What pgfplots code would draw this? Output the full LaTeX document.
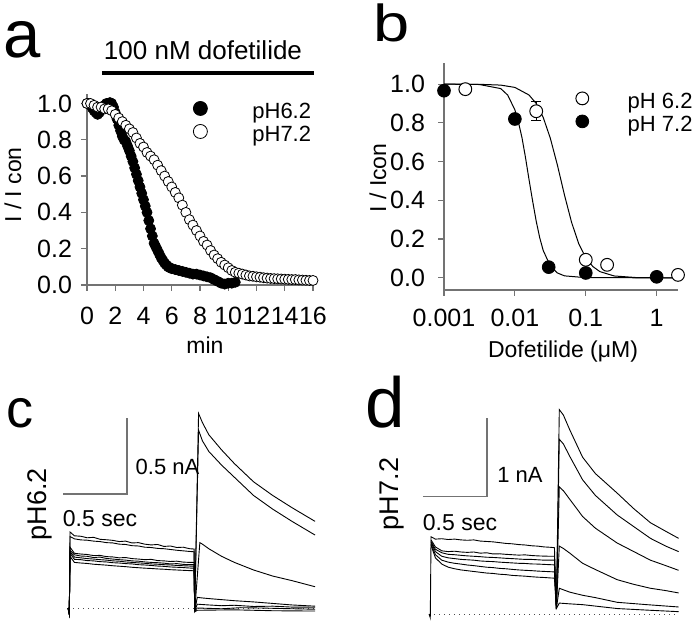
\documentclass[border=0pt]{standalone}
\usepackage{pgfplots}
\pgfplotsset{compat=1.18}
\usepackage{fontspec}
\setmainfont{Liberation Sans}
\definecolor{axgray}{gray}{0.45}
\begin{document}
\begin{tikzpicture}
\path[use as bounding box] (0,0) rectangle (348.5pt,311pt);
\pgfplotsset{
  sp/.style={scale only axis, axis x line=bottom, axis y line=left,
    axis line style={-, axgray, line width=0.6pt},
    tick style={axgray, line width=0.6pt}, tick align=outside,
    major tick length=3pt,
    every tick label/.append style={font=\fontsize{12.5}{13}\selectfont, text=black},
    /pgf/number format/assume math mode=true, clip=false},
  trace/.style={black, line width=0.45pt, mark=none},
}
% ---------------- panel a ----------------
\begin{axis}[sp, at={(43.5pt,168.5pt)}, anchor=south west,
  width=113pt, height=95.3pt, xmin=0, xmax=16, ymin=0, ymax=1.05,
  xtick={0,2,4,6,8,10,12,14,16},
  ytick={0,0.2,0.4,0.6,0.8,1.0}, yticklabels={0.0,0.2,0.4,0.6,0.8,1.0},
  xticklabel style={yshift=-4.5pt}, yticklabel style={xshift=-1pt},
  legend style={at={(0.469,0.965)}, anchor=north west, draw=none, fill=none,
    inner sep=0pt, row sep=0pt, font=\fontsize{11}{11}\selectfont,
    nodes={inner sep=0pt, text height=8pt, text depth=3pt},
    /tikz/every odd column/.append style={column sep=22.5pt},
    /tikz/every even column/.append style={column sep=0pt}},
  legend image code/.code={\draw[#1, mark size=3.5pt] plot coordinates {(0pt,2.5pt)};},
]
\addplot[only marks, mark=*, mark size=2.5pt, draw=black, fill=black] coordinates {
(0,1.00) (0.125,1.00) (0.25,0.99) (0.375,0.975) (0.5,0.96) (0.625,0.95) (0.75,0.94) (0.875,0.95)
(1.0,0.97) (1.125,0.98) (1.25,0.99) (1.375,1.00) (1.5,1.00) (1.625,1.005) (1.75,1.00) (1.875,0.98)
(2.0,0.95) (2.125,0.915) (2.25,0.88) (2.375,0.85) (2.5,0.82) (2.625,0.80) (2.75,0.79) (2.875,0.765)
(3.0,0.74) (3.125,0.71) (3.25,0.68) (3.375,0.645) (3.5,0.61) (3.625,0.575) (3.75,0.54) (3.875,0.505)
(4.0,0.47) (4.125,0.435) (4.25,0.40) (4.375,0.355) (4.5,0.31) (4.625,0.27) (4.75,0.23) (4.875,0.21)
(5.0,0.19) (5.125,0.17) (5.25,0.15) (5.375,0.135) (5.5,0.12) (5.625,0.11) (5.75,0.10) (5.875,0.095)
(6.0,0.09) (6.25,0.085) (6.5,0.08) (6.75,0.075) (7.0,0.07) (7.25,0.065) (7.5,0.06) (7.75,0.06)
(8.0,0.055) (8.25,0.05) (8.5,0.045) (8.75,0.04) (9.0,0.03) (9.25,0.02) (9.5,0.01) (9.75,0.005)
(10.0,0.01) (10.25,0.01) (10.5,0.015)};
\addlegendentry{pH6.2}
\addplot[only marks, mark=*, mark size=2.5pt, draw=black, fill=white, mark options={line width=0.4pt}] coordinates {
(0,1.00) (0.25,1.00) (0.5,0.99) (0.75,0.98) (1.0,0.98) (1.25,0.97) (1.5,0.97) (1.75,0.96)
(2.0,0.94) (2.25,0.92) (2.5,0.90) (2.75,0.88) (3.0,0.86) (3.25,0.84) (3.5,0.81) (3.75,0.78)
(4.0,0.76) (4.25,0.73) (4.5,0.71) (4.75,0.69) (5.0,0.66) (5.25,0.63) (5.5,0.60) (5.75,0.57)
(6.0,0.54) (6.25,0.51) (6.5,0.48) (6.75,0.44) (7.0,0.40) (7.25,0.36) (7.5,0.33) (7.75,0.30)
(8.0,0.27) (8.25,0.24) (8.5,0.22) (8.75,0.19) (9.0,0.165) (9.25,0.145) (9.5,0.125) (9.75,0.11)
(10.0,0.095) (10.25,0.08) (10.5,0.07) (10.75,0.065) (11.0,0.06) (11.25,0.055) (11.5,0.05) (11.75,0.048)
(12.0,0.045) (12.25,0.043) (12.5,0.04) (12.75,0.038) (13.0,0.036) (13.25,0.035) (13.5,0.034) (13.75,0.033)
(14.0,0.032) (14.25,0.031) (14.5,0.03) (14.75,0.03) (15.0,0.028) (15.25,0.027) (15.5,0.026) (15.75,0.025) (16.0,0.025)};
\addlegendentry{pH7.2}
\draw[black, line width=2pt] (axis cs:1.05,1.168) -- (axis cs:16.1,1.168);
\end{axis}
% ---------------- panel b ----------------
\begin{axis}[sp, at={(222pt,166pt)}, anchor=south west,
  width=117pt, height=113.3pt, xmode=log, xmin=0.001, xmax=2, ymin=-0.063, ymax=1.107,
  xtick={0.001,0.01,0.1,1}, xticklabels={0.001,0.01,0.1,1}, xminorticks=false,
  ytick={0,0.2,0.4,0.6,0.8,1.0}, yticklabels={0.0,0.2,0.4,0.6,0.8,1.0},
  xticklabel style={yshift=-3pt}, yticklabel style={xshift=-3pt},
  legend style={at={(0.562,0.876)}, anchor=north west, draw=none, fill=none,
    inner sep=0pt, row sep=0pt, font=\fontsize{11}{11}\selectfont,
    nodes={inner sep=0pt, text height=8.5pt, text depth=3pt},
    /tikz/every odd column/.append style={column sep=19.5pt},
    /tikz/every even column/.append style={column sep=0pt}},
  legend image code/.code={\draw[#1, mark size=3.2pt] plot coordinates {(0pt,2.5pt)};},
]
\addplot[black, line width=0.5pt, forget plot] coordinates {
(0.001,1.0) (0.00316,0.999) (0.00631,0.995) (0.01,0.983) (0.0158,0.944) (0.02,0.900) (0.0251,0.828)
(0.0316,0.721) (0.0398,0.582) (0.0501,0.427) (0.0631,0.286) (0.0794,0.177) (0.1,0.104)
(0.126,0.058) (0.158,0.032) (0.251,0.0095) (0.501,0.0015) (1,0.0) (2,0.0)};
\addplot[black, line width=0.5pt, forget plot] coordinates {
(0.001,1.0) (0.00316,0.998) (0.00631,0.977) (0.00794,0.943) (0.01,0.867) (0.0112,0.805)
(0.0126,0.723) (0.0141,0.622) (0.0158,0.509) (0.0178,0.396) (0.02,0.292) (0.0224,0.207)
(0.0251,0.141) (0.0316,0.061) (0.0398,0.025) (0.0501,0.010) (0.1,0.0007) (1,0.0) (2,0.0)};
\addplot[black, line width=0.5pt, forget plot, only marks, mark=none,
  error bars/.cd, y dir=both, y explicit, error mark options={rotate=90, mark size=2.5pt, line width=0.5pt}]
  coordinates {(0.02,0.86) +- (0,0.05)};
\addplot[only marks, mark=*, mark size=3.2pt, draw=black, fill=white, mark options={line width=0.5pt}] coordinates {
(0.002,0.974) (0.02,0.86) (0.1,0.093) (0.2,0.067) (2,0.015)};
\addlegendentry{pH 6.2}
\addplot[only marks, mark=*, mark size=3.2pt, draw=black, fill=black] coordinates {
(0.001,0.966) (0.01,0.82) (0.03,0.055) (0.1,0.025) (1,0.005)};
\addlegendentry{pH 7.2}
\end{axis}
% ---------------- panel c ----------------
\begin{axis}[at={(30.8pt,3.2pt)}, anchor=south west, scale only axis, hide axis, clip=false,
  width=131.2pt, height=106.4pt, xmin=-0.05, xmax=2.0, ymin=-0.05, ymax=1.35]
\addplot[black!70, dotted, line width=0.5pt] coordinates {(0,0) (1.93,0)};
\addplot[axgray, line width=0.6pt] coordinates {(-0.039,0.75) (0.461,0.75) (0.461,1.25)};
\addplot[trace] coordinates {(0,0) (0.01,-0.04) (0.016,0.50) (0.05,0.475) (0.1,0.472) (0.15,0.462) (0.2,0.465) (0.25,0.452) (0.3,0.449) (0.35,0.445) (0.4,0.437) (0.45,0.44) (0.5,0.428) (0.55,0.43) (0.6,0.42) (0.65,0.415) (0.7,0.418) (0.75,0.405) (0.8,0.408) (0.85,0.398) (0.9,0.40) (0.95,0.39) (0.985,0.388) (0.99,-0.02) (1.02,1.28) (1.05,1.22) (1.1,1.14) (1.2,1.04) (1.3,0.95) (1.45,0.83) (1.6,0.74) (1.75,0.66) (1.93,0.57)};
\addplot[trace] coordinates {(0,0) (0.01,-0.04) (0.016,0.47) (0.05,0.455) (0.1,0.448) (0.15,0.446) (0.2,0.44) (0.25,0.437) (0.3,0.43) (0.35,0.428) (0.4,0.42) (0.45,0.418) (0.5,0.41) (0.55,0.408) (0.6,0.40) (0.65,0.398) (0.7,0.392) (0.75,0.39) (0.8,0.385) (0.85,0.38) (0.9,0.376) (0.95,0.372) (0.985,0.37) (0.99,-0.02) (1.02,1.17) (1.05,1.10) (1.1,1.03) (1.2,0.94) (1.3,0.86) (1.45,0.74) (1.6,0.65) (1.75,0.57) (1.93,0.48)};
\addplot[trace] coordinates {(0,0) (0.01,-0.04) (0.016,0.40) (0.05,0.36) (0.1,0.355) (0.15,0.352) (0.2,0.345) (0.25,0.346) (0.3,0.338) (0.35,0.336) (0.4,0.33) (0.45,0.332) (0.5,0.325) (0.55,0.322) (0.6,0.318) (0.65,0.32) (0.7,0.312) (0.75,0.31) (0.8,0.306) (0.85,0.308) (0.9,0.302) (0.95,0.30) (0.985,0.30) (0.99,-0.02) (1.03,0.43) (1.05,0.42) (1.1,0.39) (1.2,0.34) (1.3,0.30) (1.45,0.25) (1.6,0.21) (1.75,0.18) (1.93,0.14)};
\addplot[trace] coordinates {(0,0) (0.01,-0.04) (0.016,0.38) (0.05,0.35) (0.1,0.342) (0.15,0.34) (0.2,0.332) (0.25,0.335) (0.3,0.326) (0.35,0.322) (0.4,0.318) (0.45,0.315) (0.5,0.31) (0.55,0.308) (0.6,0.303) (0.65,0.30) (0.7,0.298) (0.75,0.295) (0.8,0.29) (0.85,0.292) (0.9,0.287) (0.95,0.285) (0.985,0.285) (0.99,-0.02) (1.01,0.07) (1.05,0.066) (1.1,0.062) (1.2,0.055) (1.3,0.048) (1.45,0.04) (1.6,0.03) (1.75,0.02) (1.93,0.012)};
\addplot[trace] coordinates {(0,0) (0.01,-0.04) (0.016,0.37) (0.05,0.335) (0.1,0.33) (0.15,0.325) (0.2,0.322) (0.25,0.318) (0.3,0.315) (0.35,0.31) (0.4,0.308) (0.45,0.303) (0.5,0.30) (0.55,0.297) (0.6,0.294) (0.65,0.29) (0.7,0.288) (0.75,0.285) (0.8,0.283) (0.85,0.28) (0.9,0.278) (0.95,0.276) (0.985,0.275) (0.99,-0.02) (1.01,0.025) (1.1,0.02) (1.2,0.015) (1.3,0.018) (1.45,0.01) (1.6,0.012) (1.75,0.006) (1.93,0.005)};
\addplot[trace] coordinates {(0,0) (0.01,-0.04) (0.016,0.36) (0.05,0.32) (0.1,0.318) (0.15,0.312) (0.2,0.31) (0.25,0.305) (0.3,0.303) (0.35,0.298) (0.4,0.296) (0.45,0.292) (0.5,0.29) (0.55,0.285) (0.6,0.283) (0.65,0.28) (0.7,0.276) (0.75,0.274) (0.8,0.27) (0.85,0.268) (0.9,0.266) (0.95,0.263) (0.985,0.262) (0.99,-0.02) (1.01,0.0) (1.2,-0.005) (1.35,0.002) (1.5,0.0) (1.7,-0.004) (1.93,-0.008)};
\addplot[trace] coordinates {(0,0) (0.01,-0.04) (0.016,0.34) (0.05,0.30) (0.1,0.296) (0.15,0.293) (0.2,0.288) (0.25,0.285) (0.3,0.282) (0.35,0.278) (0.4,0.275) (0.45,0.272) (0.5,0.268) (0.55,0.265) (0.6,0.262) (0.65,0.26) (0.7,0.257) (0.75,0.255) (0.8,0.252) (0.85,0.25) (0.9,0.248) (0.95,0.246) (0.985,0.245) (0.99,-0.025) (1.01,-0.015) (1.3,-0.012) (1.6,-0.018) (1.93,-0.02)};
\end{axis}
% ---------------- panel d ----------------
\begin{axis}[at={(211.3pt,2.05pt)}, anchor=south west, scale only axis, hide axis, clip=false,
  width=131.2pt, height=107.25pt, xmin=-0.05, xmax=2.0, ymin=-0.05, ymax=2.7]
\addplot[black!70, dotted, line width=0.5pt] coordinates {(0,0) (1.95,0)};
\addplot[axgray, line width=0.6pt] coordinates {(-0.047,1.51) (0.453,1.51) (0.453,2.51)};
\addplot[trace] coordinates {(0,0) (0.01,-0.05) (0.016,0.99) (0.05,0.96) (0.1,0.965) (0.15,0.955) (0.2,0.96) (0.25,0.95) (0.3,0.945) (0.35,0.95) (0.4,0.935) (0.45,0.93) (0.5,0.925) (0.55,0.915) (0.6,0.905) (0.65,0.90) (0.7,0.89) (0.75,0.885) (0.8,0.875) (0.85,0.87) (0.9,0.86) (0.95,0.855) (0.98,0.85) (0.995,0.07) (1.018,2.62) (1.05,2.55) (1.1,2.36) (1.2,2.01) (1.3,1.80) (1.47,1.55) (1.6,1.35) (1.73,1.17) (1.85,1.06) (1.95,0.97)};
\addplot[trace] coordinates {(0.016,0.95) (0.05,0.86) (0.1,0.81) (0.15,0.80) (0.2,0.805) (0.25,0.795) (0.3,0.79) (0.35,0.795) (0.4,0.78) (0.45,0.785) (0.5,0.77) (0.55,0.772) (0.6,0.765) (0.65,0.76) (0.7,0.755) (0.75,0.758) (0.8,0.75) (0.85,0.745) (0.9,0.742) (0.95,0.74) (0.98,0.74) (0.995,0.07) (1.018,2.24) (1.05,2.18) (1.1,2.02) (1.2,1.72) (1.3,1.52) (1.47,1.27) (1.6,1.12) (1.73,0.97) (1.85,0.87) (1.95,0.80)};
\addplot[trace] coordinates {(0.016,0.93) (0.05,0.83) (0.1,0.785) (0.15,0.765) (0.2,0.76) (0.25,0.752) (0.3,0.745) (0.35,0.74) (0.4,0.735) (0.45,0.728) (0.5,0.725) (0.55,0.72) (0.6,0.714) (0.65,0.71) (0.7,0.705) (0.75,0.70) (0.8,0.70) (0.85,0.695) (0.9,0.69) (0.95,0.69) (0.98,0.69) (0.995,0.07) (1.018,1.63) (1.05,1.58) (1.1,1.47) (1.2,1.25) (1.3,1.10) (1.47,0.91) (1.6,0.80) (1.73,0.69) (1.85,0.62) (1.95,0.56)};
\addplot[trace] coordinates {(0.016,0.92) (0.05,0.80) (0.1,0.74) (0.15,0.72) (0.2,0.71) (0.25,0.70) (0.3,0.695) (0.35,0.69) (0.4,0.68) (0.45,0.675) (0.5,0.672) (0.55,0.665) (0.6,0.66) (0.65,0.655) (0.7,0.65) (0.75,0.648) (0.8,0.642) (0.85,0.64) (0.9,0.636) (0.95,0.632) (0.98,0.63) (0.995,0.07) (1.018,0.87) (1.05,0.84) (1.1,0.78) (1.2,0.65) (1.3,0.57) (1.47,0.44) (1.6,0.38) (1.73,0.33) (1.85,0.30) (1.95,0.27)};
\addplot[trace] coordinates {(0.016,0.90) (0.05,0.76) (0.1,0.69) (0.15,0.665) (0.2,0.65) (0.25,0.64) (0.3,0.628) (0.35,0.62) (0.4,0.61) (0.45,0.60) (0.5,0.595) (0.55,0.585) (0.6,0.58) (0.65,0.572) (0.7,0.565) (0.75,0.56) (0.8,0.556) (0.85,0.55) (0.9,0.546) (0.95,0.542) (0.98,0.54) (0.995,0.07) (1.018,0.33) (1.05,0.31) (1.1,0.28) (1.2,0.24) (1.3,0.21) (1.47,0.15) (1.7,0.12) (1.95,0.09)};
\addplot[trace] coordinates {(0.016,0.88) (0.05,0.72) (0.1,0.64) (0.15,0.60) (0.2,0.58) (0.25,0.565) (0.3,0.555) (0.35,0.545) (0.4,0.535) (0.45,0.525) (0.5,0.52) (0.55,0.51) (0.6,0.505) (0.65,0.495) (0.7,0.49) (0.75,0.485) (0.8,0.478) (0.85,0.472) (0.9,0.468) (0.95,0.462) (0.98,0.46) (0.995,0.07) (1.018,0.14) (1.1,0.13) (1.2,0.12) (1.47,0.07) (1.7,0.05) (1.95,0.03)};
\end{axis}
% ---------------- texts ----------------
\node[anchor=base west, inner sep=0pt, font=\fontsize{33.5}{34}\selectfont] at (1.5pt,282pt) {a};
\node[anchor=base west, inner sep=0pt, font=\fontsize{26}{27}\selectfont, xscale=1.25] at (186.5pt,290pt) {b};
\node[anchor=base west, inner sep=0pt, font=\fontsize{27}{28}\selectfont] at (3pt,97pt) {c};
\node[anchor=base west, inner sep=0pt, font=\fontsize{35.5}{36}\selectfont] at (182.5pt,97pt) {d};
\node[font=\fontsize{13}{13}\selectfont] at (101.5pt,286pt) {100 nM dofetilide};
\node[font=\fontsize{11.5}{12}\selectfont] at (102.5pt,138.5pt) {min};
\node[font=\fontsize{11.5}{12}\selectfont] at (281.5pt,135pt) {Dofetilide (μM)};
\node[rotate=90, font=\fontsize{11.5}{12}\selectfont] at (6.5pt,218.5pt) {I / I con};
\node[rotate=90, font=\fontsize{11.5}{12}\selectfont] at (189pt,222pt) {I / Icon};
\node[rotate=90, font=\fontsize{13.5}{14}\selectfont] at (20pt,59pt) {pH6.2};
\node[rotate=90, font=\fontsize{13.5}{14}\selectfont] at (196pt,64pt) {pH7.2};
\node[font=\fontsize{11}{12}\selectfont] at (83.75pt,77.75pt) {0.5 nA};
\node[font=\fontsize{11.5}{12}\selectfont] at (50pt,51.75pt) {0.5 sec};
\node[font=\fontsize{11}{12}\selectfont] at (260pt,73.5pt) {1 nA};
\node[font=\fontsize{11.5}{12}\selectfont] at (230pt,49.75pt) {0.5 sec};
\end{tikzpicture}
\end{document}
